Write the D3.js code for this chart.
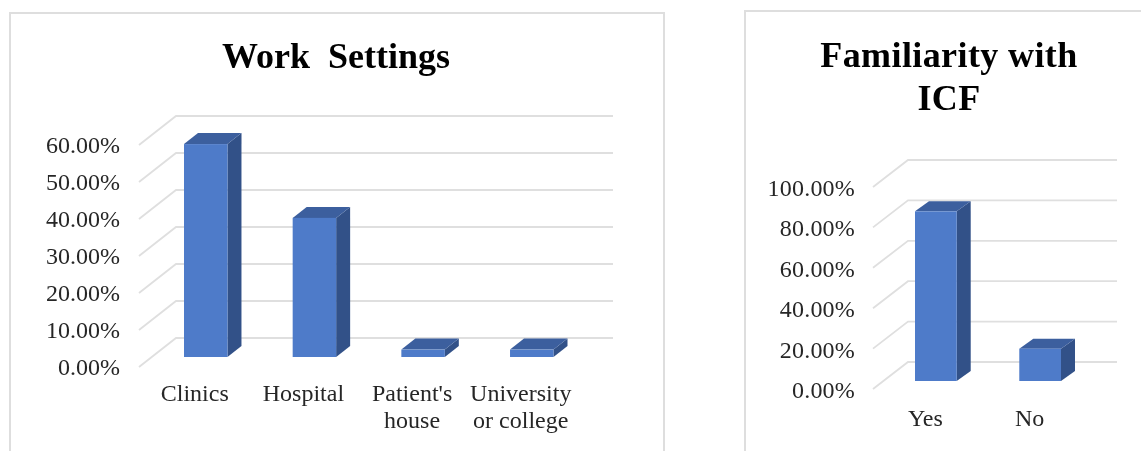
<!DOCTYPE html>
<html><head><meta charset="utf-8">
<script src="https://cdn.jsdelivr.net/npm/d3@7/dist/d3.min.js"></script>
<style>html,body{margin:0;padding:0;background:#fff}svg{display:block;filter:blur(0.45px)}text{font-family:"Liberation Serif",serif}</style>
</head><body><svg id="c" width="1141" height="451"></svg>
<script>
const workCategories = ["Clinics","Hospital","Patient's|house","University|or college"];
const workValues = [57.7, 37.7, 2, 2];
const workTicks = [0,10,20,30,40,50,60];
const icfCategories = ["Yes","No"];
const icfValues = [84, 16];
const icfTicks = [0,20,40,60,80,100];
const svg = d3.select("#c");
const fmt = d => d.toFixed(2) + "%";

function panel(o){
  const g = svg.append("g");
  g.append("path").attr("d", o.border).attr("fill","none").attr("stroke","#dedede").attr("stroke-width",2);
  o.title.forEach((t,i)=>g.append("text").attr("x",o.titleX).attr("y",o.titleY+i*o.titleLH)
    .attr("text-anchor","middle").attr("font-weight","bold").attr("font-size",o.titleSize).attr("letter-spacing",o.titleLs).attr("fill","#000").style("white-space","pre").text(t));
  const yBack = d3.scaleLinear().domain(o.domain).range(o.backRange);
  const yBar = d3.scaleLinear().domain(o.domain).range(o.barRange);
  const x = d3.scaleBand().domain(o.cats).range(o.xRange).paddingInner(o.pad).paddingOuter(0);
  o.ticks.forEach(t=>{
    const y=yBack(t);
    g.append("path").attr("d",d3.line()([[o.frontX,y+o.wallDy],[o.backX,y],[o.rightX,y]]))
      .attr("fill","none").attr("stroke","#dfdfdf").attr("stroke-width",1.8);
    g.append("text").attr("x",o.labelX).attr("y",y+o.wallDy+o.labelDy).attr("text-anchor","end")
      .attr("font-size",o.fs).attr("fill","#262626").attr("letter-spacing",o.ls).text(fmt(t));
  });
  o.cats.forEach((c,i)=>{
    const x0=x(c), w=x.bandwidth(), y0=yBar(0), y1=yBar(o.vals[i]), dx=o.dx, dy=o.dy;
    const b=g.append("g");
    b.append("path").attr("d",d3.line()([[x0+w,y1],[x0+w+dx,y1-dy],[x0+w+dx,y0-dy],[x0+w,y0]])+"Z").attr("fill","#325188");
    b.append("path").attr("d",d3.line()([[x0,y1],[x0+dx,y1-dy],[x0+w+dx,y1-dy],[x0+w,y1]])+"Z").attr("fill","#3c5f9e");
    b.append("rect").attr("x",x0).attr("y",y1).attr("width",w).attr("height",y0-y1).attr("fill","#4e7bc9");
    c.split("|").forEach((s,j)=>g.append("text").attr("x",x0+w/2+o.catDx).attr("y",o.catY+j*o.catLH)
      .attr("text-anchor","middle").attr("font-size",o.fs).attr("letter-spacing",o.catLs).attr("fill","#262626").text(s));
  });
}
panel({border:"M10,451V13H664V451",title:["Work  Settings"],titleX:336,titleY:68,titleLH:0,titleSize:36,titleLs:0,
  domain:[0,60],backRange:[338,116],barRange:[357,135.6],cats:workCategories,vals:workValues,ticks:workTicks,
  xRange:[184,553.5],pad:0.6,frontX:139,backX:176,rightX:613,wallDy:29,labelX:120,labelDy:7.5,fs:24,ls:0,catLs:0,
  dx:14,dy:11,catDx:-11,catY:401,catLH:27});
panel({border:"M745,451V11H1141",title:["Familiarity with","ICF"],titleX:949,titleY:67,titleLH:43,titleSize:36,titleLs:0.4,
  domain:[0,100],backRange:[362,160],barRange:[381,179],cats:icfCategories,vals:icfValues,ticks:icfTicks,
  xRange:[915,1061],pad:0.6,frontX:873,backX:908,rightX:1117,wallDy:27,labelX:855,labelDy:9,fs:24,ls:0.2,catLs:0,
  dx:14,dy:10,catDx:-10.5,catY:426,catLH:27});
</script></body></html>
